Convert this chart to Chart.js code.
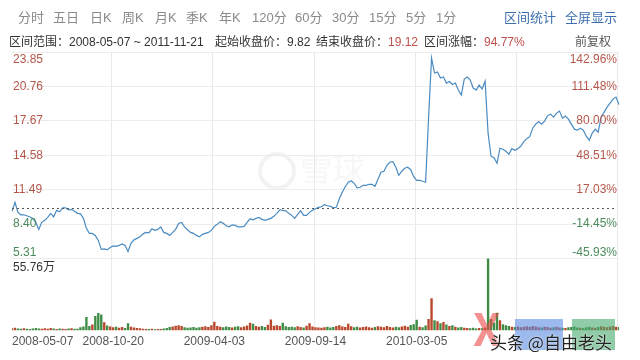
<!DOCTYPE html>
<html>
<head>
<meta charset="utf-8">
<script src="https://cdn.jsdelivr.net/npm/chart.js@4/dist/chart.umd.min.js"></script>
<style>
  html, body { margin: 0; padding: 0; background: #fff; }
  #wrap { position: relative; width: 640px; height: 360px; overflow: hidden;
          font-family: "Liberation Sans", Arial, "Noto Sans CJK SC", sans-serif; }
  #wrap canvas { position: absolute; left: 0; top: 0; }
  .t { position: absolute; white-space: nowrap; line-height: 1; }
  .tab { top: 11px; font-size: 13px; color: #8a8a8a; }
  .blue { color: #3d6fae; }
  .info { top: 36px; font-size: 12px; color: #333; }
  .red { color: #c0504d; }
  .wm { position: absolute; }
</style>
</head>
<body>
<div id="wrap">
  <span class="t" style="left:300px;top:151px;font-size:32px;color:rgba(0,0,0,0.05);font-family:'Noto Sans CJK SC'">雪球</span>
  <div class="wm" style="left:258px;top:152px;width:30px;height:30px;border:4px solid rgba(0,0,0,0.05);border-radius:50%"></div>

  <canvas id="kline" width="640" height="360"></canvas>

  <span class="t tab" style="left:18px">分时</span>
  <span class="t tab" style="left:53px">五日</span>
  <span class="t tab" style="left:90px">日K</span>
  <span class="t tab" style="left:122px">周K</span>
  <span class="t tab" style="left:155px">月K</span>
  <span class="t tab" style="left:186px">季K</span>
  <span class="t tab" style="left:219px">年K</span>
  <span class="t tab" style="left:252px">120分</span>
  <span class="t tab" style="left:295px">60分</span>
  <span class="t tab" style="left:332px">30分</span>
  <span class="t tab" style="left:369px">15分</span>
  <span class="t tab" style="left:406px">5分</span>
  <span class="t tab" style="left:436px">1分</span>
  <span class="t tab blue" style="left:504px">区间统计</span>
  <span class="t tab blue" style="left:565px">全屏显示</span>

  <span class="t info" style="left:9px">区间范围：2008-05-07 ~ 2011-11-21</span>
  <span class="t info" style="left:215px">起始收盘价：9.82</span>
  <span class="t info" style="left:316px">结束收盘价：<span class="red">19.12</span></span>
  <span class="t info" style="left:424px">区间涨幅：<span class="red">94.77%</span></span>
  <span class="t info" style="left:575px;color:#555">前复权</span>

  <span class="t" style="left:473px;top:305px;font-size:44px;font-weight:bold;color:rgba(235,70,70,0.6);font-family:'Noto Sans CJK SC'">X</span>
  <div class="wm" style="left:515px;top:319px;width:48px;height:31px;background:rgba(90,140,225,0.6)"></div>
  <div class="wm" style="left:572px;top:319px;width:43px;height:31px;background:rgba(70,170,110,0.6)"></div>
  <span class="t" style="left:490px;top:333px;font-size:17px;color:#222;font-family:'Noto Sans CJK SC';text-shadow:0 0 2px #fff">头条 @自由老头</span>
</div>

<script>
// price and volume, one point per ~3px
const closes = [
  9.54, 10.35, 9.45, 9.23, 9.23, 9.14, 9.03, 8.91, 8.55, 7.92,
  8.55, 8.73, 9.00, 9.36, 9.05, 9.63, 9.50, 9.86, 9.86, 9.68,
  9.72, 9.54, 9.36, 9.32, 8.91, 8.01, 7.56, 7.56, 7.38, 6.93,
  6.12, 6.17, 6.08, 6.30, 6.44, 6.39, 6.48, 6.62, 6.48, 5.94,
  6.66, 6.98, 7.11, 7.25, 7.52, 7.65, 7.61, 7.97, 7.83, 7.92,
  8.15, 7.65, 7.56, 7.38, 7.65, 7.92, 8.46, 8.55, 8.15, 7.88,
  7.65, 7.56, 7.38, 7.25, 7.47, 7.56, 7.65, 7.83, 8.19, 8.37,
  8.60, 8.46, 8.24, 8.15, 8.33, 8.28, 8.15, 8.15, 8.19, 8.55,
  8.87, 8.78, 8.91, 9.00, 8.82, 8.73, 8.82, 8.91, 9.09, 9.36,
  9.68, 9.63, 9.59, 9.36, 9.18, 8.91, 9.27, 9.59, 9.18, 9.18,
  9.45, 9.63, 9.77, 9.90, 9.95, 10.13, 10.04, 9.99, 9.86, 9.90,
  10.67, 11.25, 11.75, 12.15, 12.29, 12.06, 11.66, 11.70, 11.88, 11.88,
  11.97, 11.97, 11.79, 12.42, 13.05, 13.14, 13.68, 13.95, 14.00, 13.50,
  12.78, 13.14, 13.41, 13.50, 13.28, 12.65, 12.33, 12.33, 12.24, 12.15,
  17.91, 23.31, 21.96, 22.05, 21.51, 21.60, 21.06, 21.20, 20.93, 21.06,
  20.43, 19.98, 21.42, 21.60, 21.33, 20.61, 20.43, 20.88, 20.52, 21.24,
  16.56, 14.49, 14.36, 13.86, 15.21, 15.12, 14.94, 14.67, 15.17, 15.03,
  15.17, 15.40, 15.80, 16.07, 16.25, 17.01, 17.37, 17.60, 17.37, 17.64,
  18.14, 18.27, 18.00, 18.36, 18.54, 17.91, 18.09, 17.82, 17.37, 16.92,
  16.83, 17.01, 16.83, 16.29, 15.93, 16.56, 16.92, 16.65, 18.00, 18.45,
  18.90, 19.26, 19.62, 19.80, 19.12
];

// 万手
const volumes = [
  1.8, 2.2, 1.6, 1.4, 1.9, 1.5, 1.3, 1.7, 2.1, 1.6,
  1.4, 1.8, 1.5, 2.0, 1.6, 1.3, 1.7, 1.5, 1.2, 1.6,
  1.9, 1.4, 1.5, 2.6, 3.2, 10.5, 3.5, 4.8, 11.2, 13.6,
  12.4, 6.5, 4.0, 3.2, 2.5, 3.0, 2.2, 2.8, 2.0, 5.6,
  3.0, 2.4, 2.0, 1.8, 1.5, 1.3, 1.2, 1.4, 1.1, 1.3,
  1.2, 1.6, 2.0, 2.8, 3.2, 3.8, 4.2, 3.6, 2.5, 2.2,
  2.4, 2.8, 2.2, 2.6, 3.0, 3.4, 2.8, 4.2, 6.8, 3.6,
  3.0, 2.6, 3.2, 2.8, 2.4, 3.0, 3.4, 2.6, 3.2, 4.0,
  6.0, 5.2, 3.6, 3.0, 3.6, 2.8, 4.6, 8.6, 3.8, 4.2,
  3.6, 6.0, 3.4, 2.8, 3.0, 2.6, 3.4, 2.8, 2.4, 3.8,
  5.6, 3.2, 2.6, 2.4, 2.2, 2.6, 3.0, 2.4, 2.8, 3.6,
  4.2, 3.2, 2.8, 5.2, 3.4, 2.6, 3.0, 2.4, 2.8, 3.2,
  2.6, 2.2, 2.8, 3.4, 3.0, 2.6, 3.6, 2.8, 2.4, 3.0,
  2.6, 3.2, 3.8, 3.0, 4.4, 5.0, 8.4, 3.0, 2.6, 4.0,
  9.0, 25.0, 8.0, 7.2, 5.6, 6.6, 4.8, 3.6, 4.2, 3.0,
  2.4, 2.8, 2.2, 2.0, 1.8, 2.2, 1.6, 2.0, 1.8, 2.4,
  55.76, 9.0, 6.0, 13.8, 8.0, 5.0, 4.2, 3.6, 3.0, 2.8,
  3.2, 2.6, 3.0, 3.4, 2.8, 3.6, 3.2, 2.6, 2.4, 3.0,
  2.8, 2.2, 2.6, 3.0, 2.4, 2.2, 2.0, 2.6, 2.8, 3.2,
  2.4, 2.2, 2.0, 2.6, 3.0, 2.4, 2.2, 2.8, 3.4, 3.0,
  2.6, 3.2, 3.6, 3.0, 2.8
];

const priceTicks = [5.31, 8.40, 11.49, 14.58, 17.67, 20.76, 23.85];
const pctTicks = ['-45.93%', '-14.45%', '17.03%', '48.51%', '80.00%', '111.48%', '142.96%'];
const tickDates = ['2008-05-07', '2008-10-20', '2009-04-03', '2009-09-14', '2010-03-05'];
const tickStep = 34;          // points between date grid lines
const startClose = 9.82;
const volMaxLabel = '55.76万';
const volMax = 55.76;

// panel heights in px: price on top, volume below
const priceH = 206;
const volH = 72;
const pMin = priceTicks[0], pMax = priceTicks[priceTicks.length - 1];
const priceAxisMin = pMin - (pMax - pMin) * volH / priceH;
const volAxisMax = volMax * (priceH + volH) / volH;

const UP = '#b9472c';
const DOWN = '#3f8d45';
const RED_TXT = '#b4574a';
const GREEN_TXT = '#4b8b5b';
const FONT = '"Liberation Sans", Arial, sans-serif';

const sideLabels = {
  id: 'sideLabels',
  afterDraw(chart) {
    const { ctx, chartArea } = chart;
    const yP = chart.scales.yPrice;
    const yV = chart.scales.yVol;
    ctx.save();

    // dotted line at the starting close
    const yBase = Math.round(yP.getPixelForValue(startClose)) + 0.5;
    ctx.strokeStyle = '#555';
    ctx.lineWidth = 1;
    ctx.setLineDash([2, 3]);
    ctx.beginPath();
    ctx.moveTo(chartArea.left, yBase);
    ctx.lineTo(chartArea.right - 2, yBase);
    ctx.stroke();
    ctx.setLineDash([]);

    ctx.font = '12px ' + FONT;
    const last = priceTicks.length - 1;
    priceTicks.forEach((v, i) => {
      let y = yP.getPixelForValue(v);
      if (i === last) y += 8;
      if (i === 0) y -= 6;
      const col = v < startClose ? GREEN_TXT : RED_TXT;
      ctx.fillStyle = col;
      ctx.textBaseline = 'middle';
      ctx.textAlign = 'left';
      ctx.fillText(v.toFixed(2), chartArea.left + 1, y);
      ctx.textAlign = 'right';
      ctx.fillText(pctTicks[i], chartArea.right - 2, y);
    });

    ctx.fillStyle = '#333';
    ctx.textAlign = 'left';
    ctx.textBaseline = 'top';
    ctx.font = '12px ' + FONT + ', "Noto Sans CJK SC"';
    ctx.fillText(volMaxLabel, chartArea.left + 1, yV.getPixelForValue(volMax) + 3);
    ctx.restore();
  }
};

new Chart(document.getElementById('kline'), {
  data: {
    labels: closes.map((_, i) => i),
    datasets: [{
      type: 'line',
      yAxisID: 'yPrice',
      data: closes,
      borderColor: '#4a8bc2',
      borderWidth: 1.2,
      pointRadius: 0,
      tension: 0,
      order: 1
    }, {
      type: 'bar',
      yAxisID: 'yVol',
      data: volumes,
      backgroundColor: c => (c.dataIndex > 0 && closes[c.dataIndex] < closes[c.dataIndex - 1]) ? DOWN : UP,
      barPercentage: 0.8,
      categoryPercentage: 1,
      order: 2
    }]
  },
  options: {
    responsive: false,
    animation: false,
    layout: { padding: { left: 12, right: 21, top: 52, bottom: 7 } },
    plugins: { legend: { display: false }, tooltip: { enabled: false } },
    scales: {
      x: {
        type: 'category',
        offset: false,
        border: { display: false },
        grid: {
          drawTicks: false,
          color: c => (c.tick && c.tick.value > 0 && c.tick.value % tickStep === 0) ? '#e9e9e9' : 'rgba(0,0,0,0)'
        },
        ticks: {
          autoSkip: false,
          maxRotation: 0,
          align: 'inner',
          padding: 4,
          color: '#555',
          font: { size: 12, family: FONT },
          callback: v => (v % tickStep === 0 && tickDates[v / tickStep]) ? tickDates[v / tickStep] : ''
        }
      },
      yPrice: {
        type: 'linear',
        position: 'left',
        min: priceAxisMin,
        max: pMax,
        border: { display: false },
        grid: { drawTicks: false, color: '#ececec' },
        ticks: { display: false },
        afterBuildTicks: s => { s.ticks = priceTicks.map(v => ({ value: v })); }
      },
      yVol: {
        type: 'linear',
        position: 'right',
        display: false,
        min: 0,
        max: volAxisMax
      }
    }
  },
  plugins: [sideLabels]
});
</script>
</body>
</html>
